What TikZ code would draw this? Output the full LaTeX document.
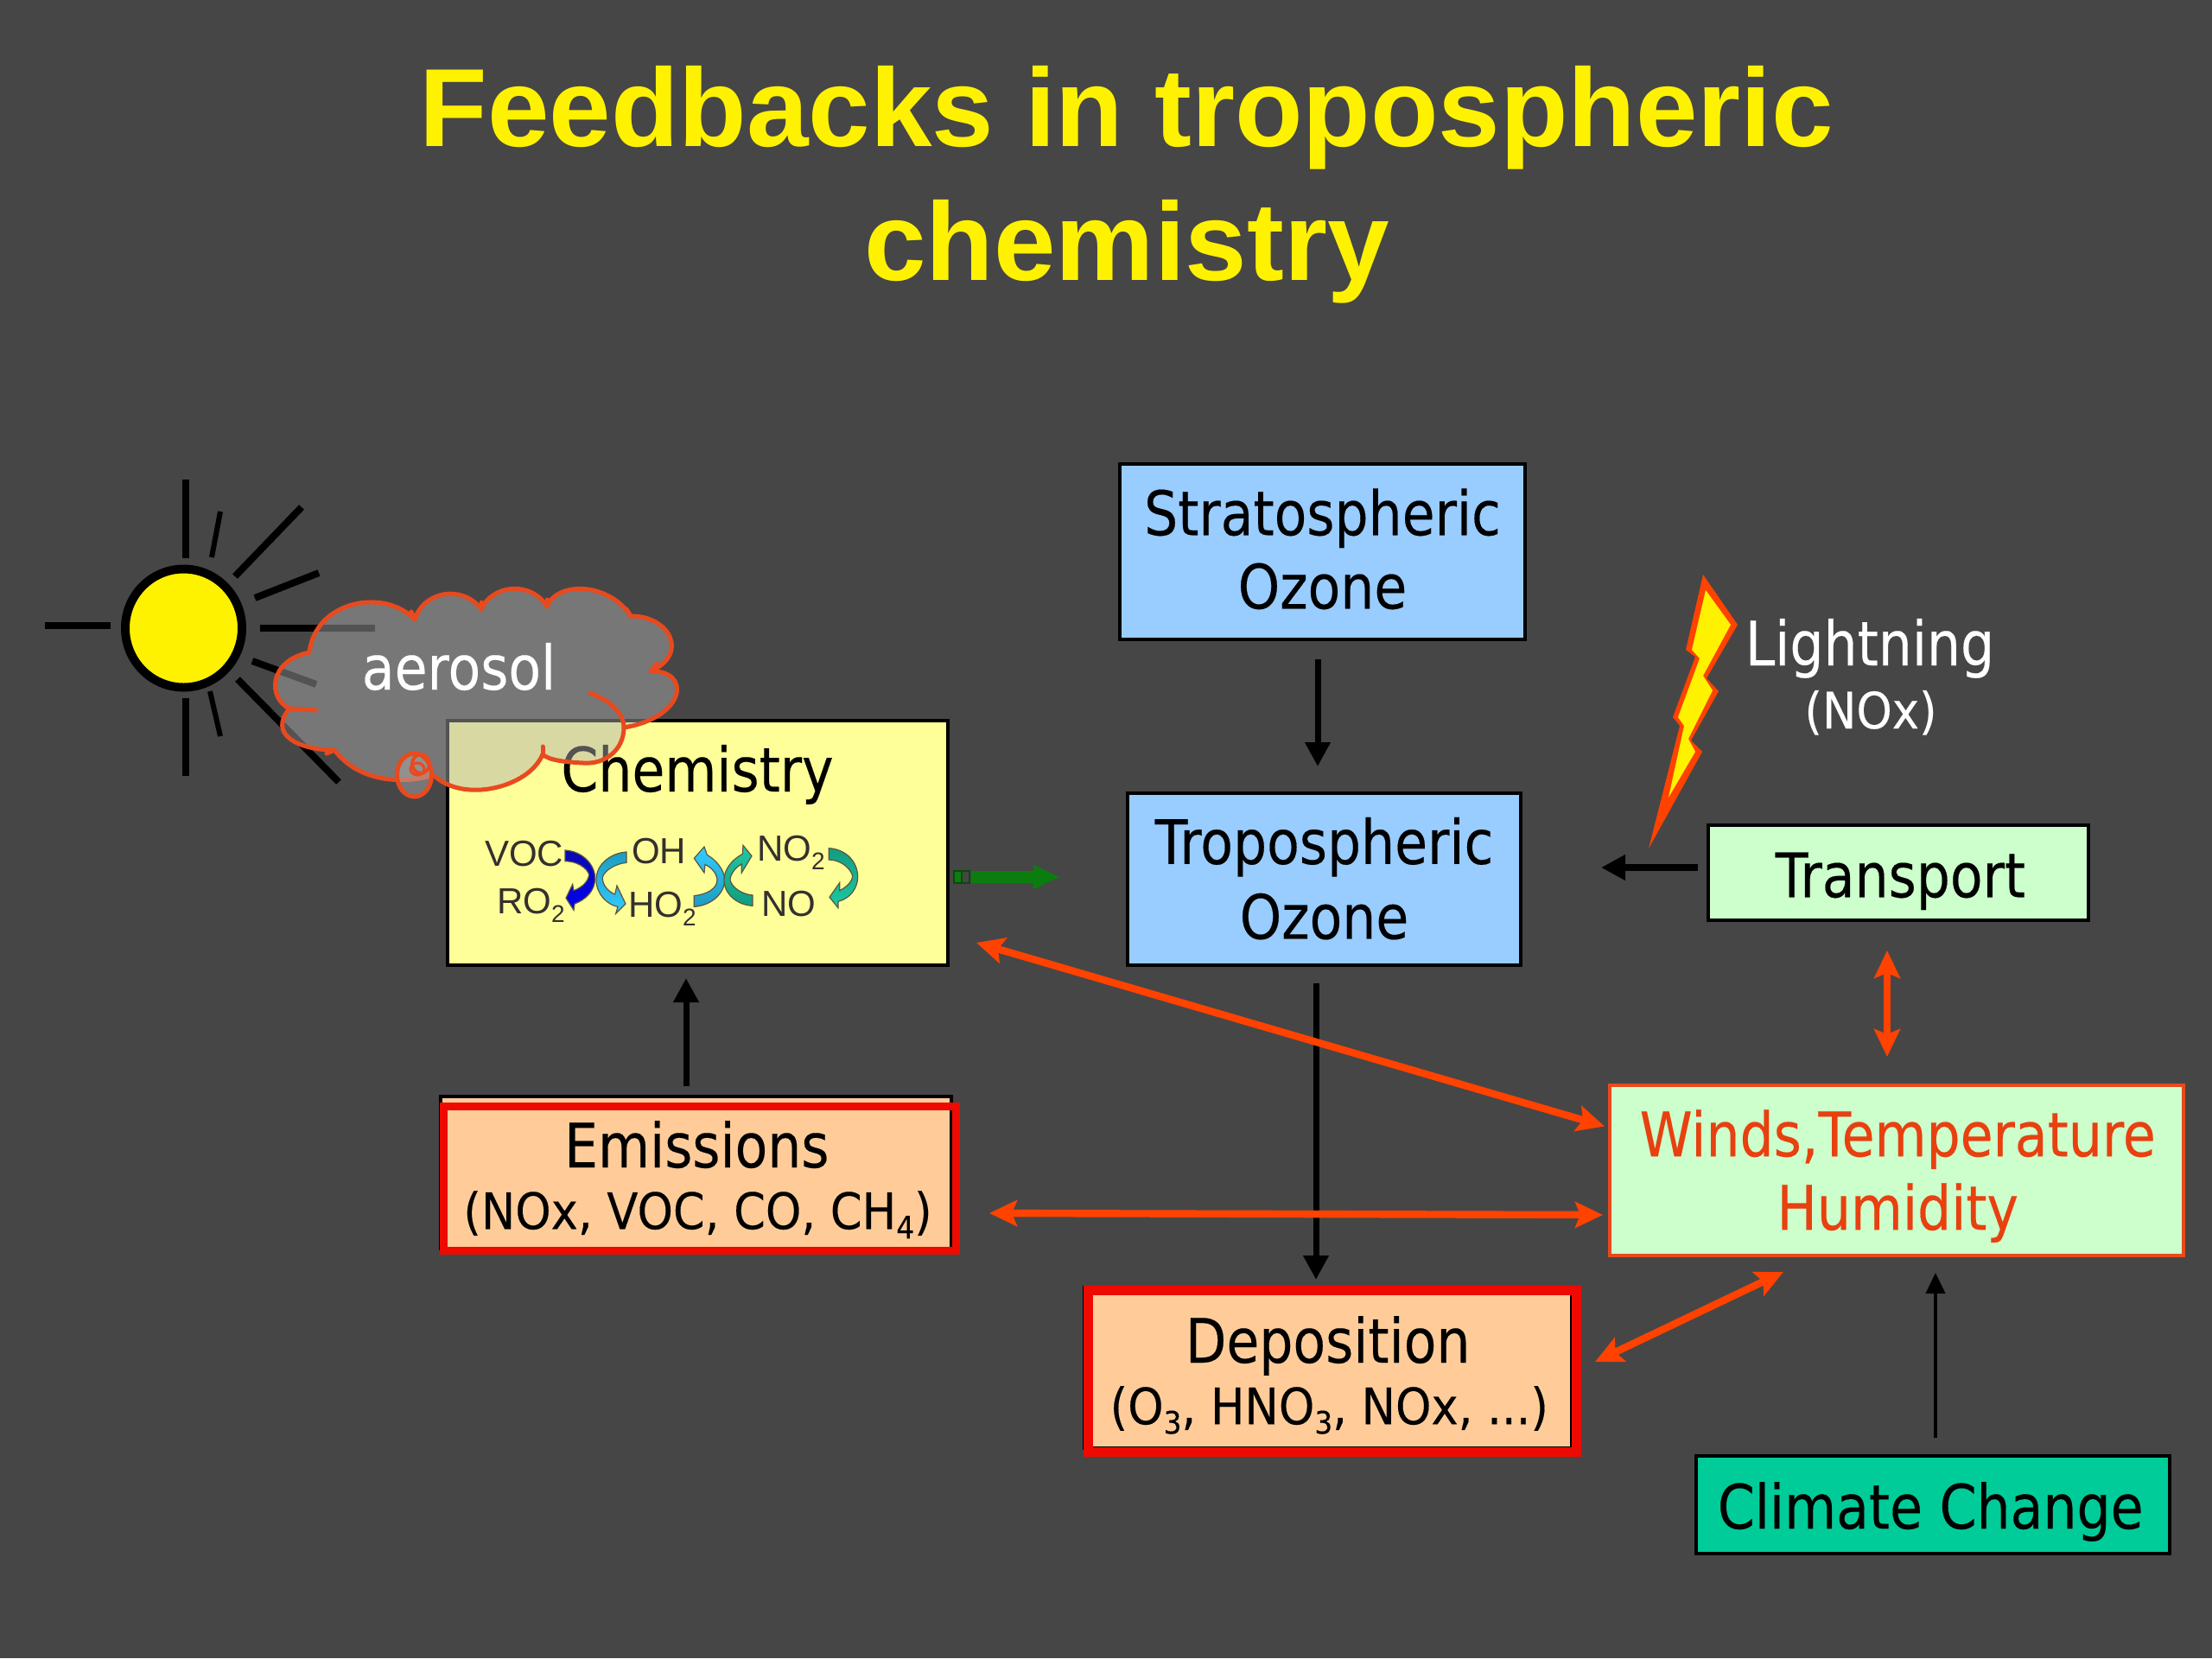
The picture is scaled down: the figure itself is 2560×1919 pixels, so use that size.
\documentclass[tikz,border=0pt]{standalone}
\usepackage{fontspec}
\usetikzlibrary{arrows.meta,calc,shapes.geometric}
\setmainfont{Liberation Sans}
\newfontfamily\bodyfam[FakeStretch=0.868,FakeBold=0.25]{DejaVu Sans}
\newfontfamily\smallfam[FakeStretch=0.908,FakeBold=0.25]{DejaVu Sans}
\newfontfamily\arialfam{Liberation Sans}
\newcommand\bodyf{\bodyfam\fontsize{35.5}{42.5}\selectfont}
\newcommand\smallf{\smallfam\fontsize{29}{33}\selectfont}
\newcommand\lowsub[1]{\raisebox{-5.5pt}{\fontsize{18}{18}\selectfont #1}}
\newcommand\chemsub[1]{\raisebox{-5pt}{\fontsize{14}{14}\selectfont #1}}
\newcommand\nudge[3]{\hspace*{#1}\raisebox{#2}[\height][\depth]{#3}\hspace*{-#1}}
\definecolor{bgc}{RGB}{70,70,70}
\definecolor{blueb}{HTML}{99CCFF}
\definecolor{yellb}{HTML}{FFFF99}
\definecolor{greenb}{HTML}{CCFFCC}
\definecolor{orangeb}{HTML}{FFCC99}
\definecolor{climb}{HTML}{00CC99}
\definecolor{redline}{HTML}{EE0A00}
\definecolor{fire}{HTML}{FF4200}
\definecolor{cloudline}{HTML}{E84A1E}
\definecolor{windtxt}{HTML}{E8400F}
\definecolor{gline}{HTML}{0B7D0F}
\definecolor{tealc}{HTML}{1E9BC0}
\definecolor{cyanl}{HTML}{33CCFF}
\definecolor{greenc}{HTML}{129C80}
\definecolor{greenl}{HTML}{1FC9A2}
\definecolor{navyc}{HTML}{0A0AB0}
\definecolor{bluel}{HTML}{0000F0}
\tikzset{
  bxs/.style={draw=black,line width=2pt,inner sep=0pt,outer sep=0pt,align=center,font=\bodyf,text=black},
  blackarr/.style={draw=black,line width=3.5pt,-{Triangle[length=14pt,width=14pt]}},
  thinarr/.style={draw=black,line width=2pt,-{Triangle[length=12pt,width=11pt]}},
  firearr/.style={draw=fire,line width=4.2pt,{Stealth[length=16pt,width=15pt,inset=3pt]}-{Stealth[length=16pt,width=15pt,inset=3pt]}},
  ray/.style={draw=black,line width=4pt},
  rayt/.style={draw=black,line width=3pt},
  cyc/.style={anchor=base west,inner sep=0pt,outer sep=0pt,font=\arialfam\fontsize{21}{21}\selectfont,text=black!92!yellow},
  curl/.style={draw=black!75!yellow,line width=0.6pt},
  cloudedge/.style={draw=cloudline,line width=2.5pt,line cap=round,line join=round},
  lab/.style={inner sep=0pt,outer sep=0pt,anchor=base,text=white},
}
\begin{document}
\begin{tikzpicture}[x=0.5pt,y=-0.5pt]
\useasboundingbox (0,0) rectangle (2560,1919);
\fill[bgc] (0,0) rectangle (2560,1919);
% title
\node[inner sep=0pt,outer sep=0pt,align=center,text=yellow,font=\arialfam\bfseries\fontsize{64.3}{77.5}\selectfont] (title) at (1304,214) {Feedbacks in tropospheric\\chemistry};
% sun
\draw[ray] (215,555) -- (215,646);
\draw[rayt] (255,592) -- (245,645);
\draw[ray] (349,587) -- (272,667);
\draw[ray] (369,663) -- (295,692);
\draw[ray] (301,727) -- (434,727);
\draw[ray] (292,765) -- (366,792);
\draw[ray] (275,786) -- (392,905);
\draw[rayt] (243,800) -- (255,852);
\draw[ray] (215,808) -- (215,898);
\draw[ray] (52,724) -- (128,724);
\draw[fill=yellow,draw=black,line width=5pt] (212.5,727) ellipse [x radius=67.5,y radius=68.5];
% boxes
\node[bxs,fill=blueb,minimum width=234.5pt,minimum height=101.5pt] (strato) at (1530.5,638.5) {\nudge{0pt}{1.6pt}{Stratospheric}\\\nudge{0pt}{1.6pt}{Ozone}};
\node[bxs,fill=blueb,minimum width=227.5pt,minimum height=99.5pt] (tropo) at (1532.5,1017.5) {\nudge{0pt}{0.8pt}{Tropospheric}\\Ozone};
\node[bxs,fill=yellb,minimum width=289.5pt,minimum height=141.5pt] (chem) at (807.5,975.5) {};
\node[inner sep=0pt,outer sep=0pt,anchor=base,font=\bodyf,text=black] (chemlab) at (807,916) {Chemistry};
\node[bxs,fill=greenb,minimum width=220pt,minimum height=55pt] (transport) at (2197,1010) {\nudge{1.2pt}{-4.9pt}{Transport}};
\node[bxs,draw=cloudline,fill=greenb,text=windtxt,minimum width=332pt,minimum height=98.5pt] (winds) at (2195,1354.5) {\nudge{0.6pt}{-3.3pt}{Winds,Temperature}\\\nudge{0.6pt}{-3.3pt}{Humidity}};
\node[bxs,fill=climb,minimum width=274pt,minimum height=56.5pt] (climate) at (2237,1741.5) {\nudge{-1.4pt}{-4pt}{Climate Change}};
% emissions
\node[bxs,fill=orangeb,minimum width=295.5pt,minimum height=88pt] (emback) at (805.5,1357) {};
\node[bxs,draw=redline,line width=4.5pt,minimum width=296.5pt,minimum height=83.5pt] (em) at (809.5,1363.5) {\nudge{-1.6pt}{-3.3pt}{Emissions}\\[-2pt]\smallf \nudge{-1pt}{1.6pt}{(NOx, VOC, CO, CH\lowsub{4})}};
% deposition
\node[bxs,fill=orangeb,minimum width=282pt,minimum height=93pt] (depback) at (1537,1583) {};
\node[bxs,draw=redline,line width=5.5pt,minimum width=282.5pt,minimum height=93.5pt] (dep) at (1541.5,1586.5) {\nudge{-2.4pt}{-4.9pt}{Deposition}\\[-2pt]\smallf \nudge{-1.6pt}{0pt}{(O\lowsub{3}, HNO\lowsub{3}, NOx, ...)}};
% chem cycle labels
\node[cyc] (voc) at (561,1002) {VOC};
\node[cyc] (ro2) at (575,1057) {RO\chemsub{2}};
\node[cyc] (oh) at (731,999) {OH};
\node[cyc] (ho2) at (727,1061) {HO\chemsub{2}};
\node[cyc] (no2) at (876,996) {NO\chemsub{2}};
\node[cyc] (no) at (881,1060) {NO};
% curls (traced from the 3x crops)
\begin{scope}[shift={(640,960)},x=0.16667pt,y=-0.16667pt]
\path[curl,top color=navyc,bottom color=bluel] (42,72) .. controls (100,75) and (146,120) .. (146,170) .. controls (146,215) and (110,245) .. (75,258) -- (72,280) -- (45,238) -- (68,190) -- (72,212) .. controls (105,200) and (125,175) .. (125,155) .. controls (115,130) and (80,110) .. (42,110) -- cycle;
\path[curl,top color=tealc,bottom color=cyanl] (255,78) .. controls (200,82) and (150,120) .. (150,175) .. controls (150,225) and (190,262) .. (225,268) -- (218,292) -- (252,258) -- (222,195) -- (215,225) .. controls (190,215) and (170,190) .. (172,165) .. controls (180,140) and (220,118) .. (255,115) -- cycle;
\end{scope}
\begin{scope}[shift={(790,960)},x=0.16667pt,y=-0.16667pt]
\path[curl,top color=cyanl,bottom color=tealc] (40,268) .. controls (95,265) and (146,225) .. (146,175) .. controls (146,140) and (115,105) .. (85,88) -- (75,60) -- (40,100) -- (75,150) -- (78,122) .. controls (100,130) and (120,155) .. (120,175) .. controls (120,205) and (85,225) .. (40,230) -- cycle;
\path[curl,top color=greenl,bottom color=greenc] (243,265) .. controls (190,262) and (144,225) .. (144,175) .. controls (144,140) and (170,105) .. (208,85) -- (210,55) -- (240,92) -- (205,150) -- (205,120) .. controls (185,130) and (165,155) .. (165,175) .. controls (170,200) and (205,225) .. (243,228) -- cycle;
\path[curl,top color=greenc,bottom color=greenl] (508,65) .. controls (565,68) and (608,110) .. (608,165) .. controls (608,205) and (580,240) .. (540,250) -- (540,272) -- (510,235) -- (545,185) -- (545,212) .. controls (570,200) and (590,180) .. (590,160) .. controls (580,130) and (545,105) .. (508,105) -- cycle;
\end{scope}
% cloud
\path[cloudedge,fill={rgb,255:red,174;green,174;blue,174},fill opacity=.48]
 (358,755) .. controls (365,695) and (445,680) .. (480,717)
 .. controls (490,684) and (535,676) .. (557,705)
 .. controls (570,676) and (615,672) .. (633,702)
 .. controls (645,672) and (705,674) .. (730,713)
 .. controls (772,712) and (800,755) .. (753,777)
 .. controls (800,775) and (795,830) .. (722,842)
 .. controls (722,868) and (700,885) .. (675,883)
 .. controls (655,882) and (635,880) .. (628,873)
 .. controls (612,912) and (535,930) .. (502,897)
 .. controls (465,908) and (415,905) .. (387,868)
 .. controls (345,868) and (310,850) .. (335,820)
 .. controls (310,808) and (310,765) .. (358,755) -- cycle;
\draw[cloudedge] (683,802) .. controls (705,810) and (722,825) .. (722,842);
\draw[cloudedge] (335,820) -- (366,822);
\draw[cloudedge] (480,717) -- (476,708);
\draw[cloudedge] (557,705) -- (557,697);
\draw[cloudedge] (633,702) -- (633,694);
\draw[cloudedge] (730,713) -- (725,705);
\draw[cloudedge] (753,777) -- (760,768);
\draw[cloudedge] (387,868) -- (378,872);
\draw[cloudedge] (628,873) -- (628,864);
\draw[cloudedge,fill={rgb,255:red,174;green,174;blue,174},fill opacity=.48] (479.5,897) ellipse [x radius=20,y radius=25];
\draw[cloudedge,line width=2pt] (487,884) ellipse [x radius=10,y radius=11];
\draw[cloudedge,line width=1.5pt] (483,890) ellipse [x radius=8,y radius=7];
\node[lab,font=\bodyf] (aerosol) at (531,798) {aerosol};
% lightning
\path[fill=fire] (1971,665) -- (2011,723) -- (1975,785) -- (1989,800) -- (1957,857) -- (1970,870) -- (1908,982) -- (1944,840) -- (1936,830) -- (1962,760) -- (1951,752) -- cycle;
\path[fill=yellow] (1974,683) -- (2003,723) -- (1971,782) -- (1982,799) -- (1954,855) -- (1962,870) -- (1931,923) -- (1949,840) -- (1942,830) -- (1967,762) -- (1958,752) -- cycle;
\node[lab,font=\bodyf] (lightning) at (2164,770) {Lightning};
\node[lab,font=\smallf] (nox) at (2165,843) {(NOx)};
% connectors
\draw[blackarr] ($(strato.south)+(-5.5,23)$) -- ($(tropo.north)+(-7.5,-31)$);
\draw[blackarr,line width=4pt] ($(transport.west)+(-12,-6)$) -- ($(tropo.east)+(93,-13.5)$);
\draw[blackarr] ($(emback.north)+(-11.5,-12)$) -- ($(chem.south)+(-13.5,15)$);
\draw[blackarr] ($(tropo.south)+(-9.5,21)$) -- ($(dep.north)+(-18.5,-12)$);
\draw[thinarr] ($(climate.north)+(3,-21)$) -- ($(winds.south)+(45,20)$);
\draw[firearr] ($(chem.south east)+(33,-26)$) -- ($(winds.west)+(-6,-51)$);
\draw[firearr] ($(em.east)+(39,40.5)$) -- ($(winds.west)+(-8,51.5)$);
\draw[firearr] ($(dep.east)+(22,-10.5)$) -- ($(winds.south)+(-131,19)$);
\draw[firearr] ($(transport.south)+(-13,35)$) -- ($(winds.north)+(-11,-33)$);
% green arrow
\draw[gline!60!black,line width=1pt,fill=gline] (1104,1008) rectangle (1113,1022);
\draw[gline!60!black,line width=1pt] (1113,1008) rectangle (1122,1022);
\draw[gline,line width=7pt,-{Triangle[length=15.5pt,width=13pt]}] ($(chem.east)+(27,39.5)$) -- ($(tropo.west)+(-78,-2.5)$);
\end{tikzpicture}
\end{document}
